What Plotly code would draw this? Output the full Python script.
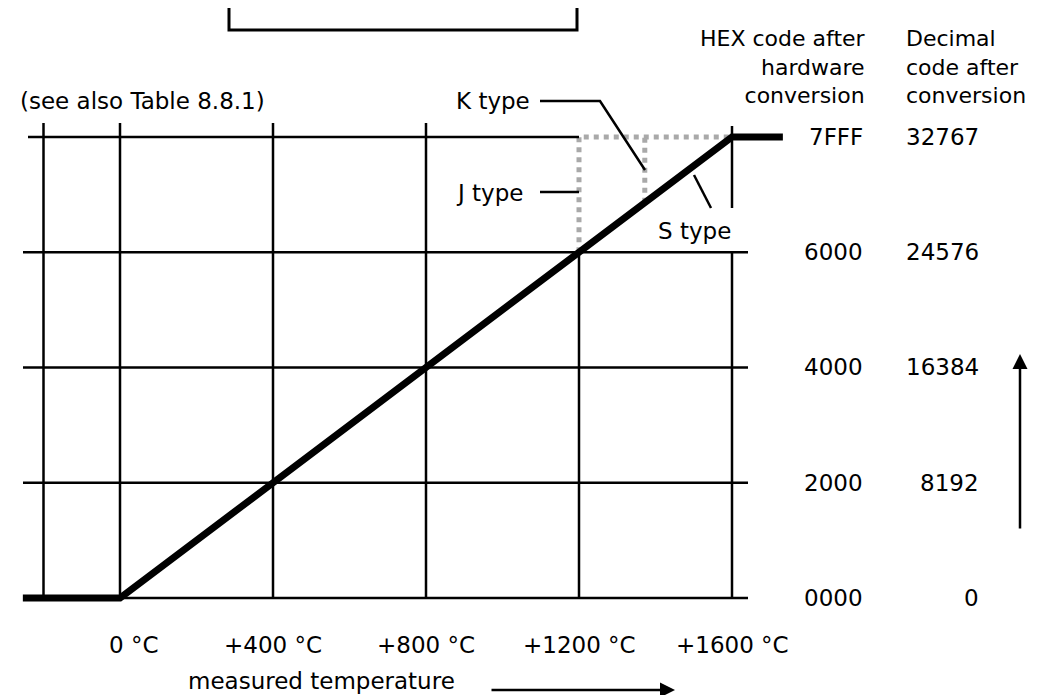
import plotly.graph_objects as go

# ---------------- data ----------------
temps = [0, 400, 800, 1200, 1600]
temp_labels = ["0 °C", "+400 °C", "+800 °C", "+1200 °C", "+1600 °C"]
dec_codes = [0, 8192, 16384, 24576, 32767]
hex_labels = ["0000", "2000", "4000", "6000", "7FFF"]
dec_labels = ["0", "8192", "16384", "24576", "32767"]

# characteristic (temperature -> code)
char_t = [-254, 0, 1600, 1733]
char_c = [0, 0, 32767, 32767]

# thermocouple end points
j_max_t = 1200
k_max_t = 1372
s_max_t = 1600
full_code = 32767

W, H = 1038, 695
# pixel <-> data mapping of the figure (plot area = whole figure)
X0PX, XSCALE = 112, 153 / 400.0      # px of 0 °C, px per °C
Y0PX, YSCALE = 590, 461 / 32767.0    # px of code 0, px per code unit


def tx(px):
    return (px - X0PX) / XSCALE


def cy(py):
    return (Y0PX - py) / YSCALE


def fx(px):
    return px / W


def fy(py):
    return 1 - py / H


FONT = dict(family="DejaVu Sans", size=23, color="black")
HFONT = dict(family="DejaVu Sans", size=22, color="black")
BLACK = "black"

fig = go.Figure()

shapes = []


def seg(x0, y0, x1, y1, w=2.5, color=BLACK):
    shapes.append(dict(type="line", xref="x", yref="y", x0=x0, y0=y0, x1=x1, y1=y1,
                       line=dict(color=color, width=w)))


# horizontal grid lines
for c in dec_codes:
    if c == full_code:
        seg(tx(20), c, j_max_t, c)
    else:
        seg(tx(15), c, tx(740), c)

# vertical grid lines
for t in [-200] + temps:
    if t in (1200, 1600):
        seg(t, 0, t, 24576)
        if t == 1600:
            seg(t, cy(200), t, cy(118))
    else:
        seg(t, 0, t, cy(115))

# box at top
shapes.append(dict(type="rect", xref="x", yref="y", x0=tx(221), x1=tx(569),
                   y0=cy(22), y1=cy(-40), line=dict(color=BLACK, width=3)))

# J type / K type limits (grey stipple)
GREY = "#a9a9a9"
fig.add_trace(go.Scatter(x=[j_max_t, j_max_t, s_max_t], y=[24576, full_code, full_code],
                         mode="lines", line=dict(color=GREY, width=5, dash="dot"),
                         hoverinfo="skip"))
k_code = full_code * k_max_t / s_max_t
fig.add_trace(go.Scatter(x=[k_max_t, k_max_t], y=[k_code, full_code],
                         mode="lines", line=dict(color=GREY, width=5, dash="dot"),
                         hoverinfo="skip"))

# characteristic curve
fig.add_trace(go.Scatter(x=char_t, y=char_c, mode="lines",
                         line=dict(color=BLACK, width=7), hoverinfo="skip"))

# leader lines
fig.add_trace(go.Scatter(x=[tx(532), tx(592), tx(637)], y=[cy(93), cy(93), cy(162)],
                         mode="lines", line=dict(color=BLACK, width=2.5), hoverinfo="skip"))
fig.add_trace(go.Scatter(x=[tx(532), tx(571)], y=[cy(184), cy(184)],
                         mode="lines", line=dict(color=BLACK, width=2.5), hoverinfo="skip"))
fig.add_trace(go.Scatter(x=[tx(686), tx(703)], y=[cy(167), cy(200)],
                         mode="lines", line=dict(color=BLACK, width=2.5), hoverinfo="skip"))

ann = []


def text(s, px, py, anchor="left", font=FONT):
    ann.append(dict(text=s, x=fx(px), y=fy(py), xref="paper", yref="paper",
                    xanchor=anchor, yanchor="middle", align=anchor, showarrow=False,
                    font=font))


text("(see also Table 8.8.1)", 10, 93)
text("K type", 446, 93)
text("J type", 446, 185)
text("S type", 648, 223)

text("<br>".join(["HEX code after", "hardware", "conversion"]), 860, 59, "right", HFONT)
text("<br>".join(["Decimal", "code after", "conversion"]), 896, 59, "left", HFONT)

# code tick labels
for c, h, d in zip(dec_codes, hex_labels, dec_labels):
    ann.append(dict(text=h, x=fx(857), y=c, xref="paper", yref="y", xanchor="right",
                    yanchor="middle", showarrow=False, font=FONT))
    ann.append(dict(text=d, x=fx(973), y=c, xref="paper", yref="y", xanchor="right",
                    yanchor="middle", showarrow=False, font=FONT))

# temperature tick labels
for t, lab in zip(temps, temp_labels):
    ann.append(dict(text=lab, x=t, y=fy(637), xref="x", yref="paper", xanchor="center",
                    yanchor="middle", showarrow=False, font=FONT,
                    xshift=14 if t == 0 else 0))

text("measured temperature", 313, 673, "center")

# arrows
ann.append(dict(x=fx(667), y=fy(682), xref="paper", yref="paper", ax=-185, ay=0,
                axref="pixel", ayref="pixel", text="", showarrow=True, arrowhead=2,
                arrowsize=1.2, arrowwidth=2.5, arrowcolor=BLACK))
ann.append(dict(x=fx(1012), y=fy(346), xref="paper", yref="paper", ax=0, ay=176,
                axref="pixel", ayref="pixel", text="", showarrow=True, arrowhead=2,
                arrowsize=1.2, arrowwidth=2.5, arrowcolor=BLACK))

fig.update_layout(
    width=W, height=H, autosize=False,
    margin=dict(l=0, r=0, t=0, b=0),
    paper_bgcolor="white", plot_bgcolor="white",
    showlegend=False,
    xaxis=dict(range=[tx(0), tx(W)], visible=False, fixedrange=True),
    yaxis=dict(range=[cy(H), cy(0)], visible=False, fixedrange=True),
    shapes=shapes,
    annotations=ann,
)

fig.write_html("out.html", config=dict(displayModeBar=False))
